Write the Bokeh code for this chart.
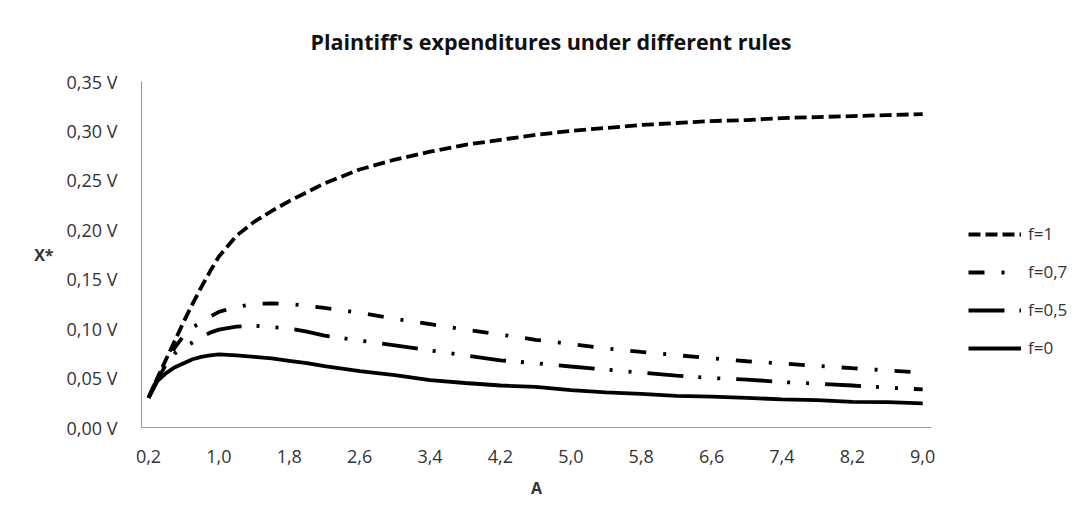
from bokeh.plotting import figure
from bokeh.models import Range1d, FixedTicker, CustomJSTickFormatter, Legend, LegendItem
from bokeh.embed import file_html
from bokeh.resources import INLINE

# ---- data ----
A = [0.2, 0.3, 0.4, 0.5, 0.6, 0.7, 0.8, 0.9, 1.0, 1.2, 1.4, 1.6, 1.8, 2.0, 2.2, 2.6,
     3.0, 3.4, 3.8, 4.2, 4.6, 5.0, 5.4, 5.8, 6.2, 6.6, 7.0, 7.4, 7.8, 8.2, 8.6, 9.0]

f_1 = [0.030, 0.050, 0.069, 0.088, 0.107, 0.125, 0.142, 0.158, 0.173, 0.194, 0.208, 0.219,
       0.229, 0.238, 0.247, 0.261, 0.271, 0.279, 0.286, 0.291, 0.296, 0.300, 0.303, 0.306,
       0.308, 0.310, 0.311, 0.313, 0.314, 0.315, 0.316, 0.317]

f_07 = [0.030, 0.050, 0.066, 0.081, 0.093, 0.101, 0.107, 0.112, 0.117, 0.122, 0.125, 0.1256,
        0.125, 0.123, 0.121, 0.116, 0.110, 0.1046, 0.099, 0.094, 0.0887, 0.0845, 0.080, 0.0765,
        0.0732, 0.070, 0.067, 0.0648, 0.0623, 0.060, 0.0578, 0.0555]

f_05 = [0.030, 0.048, 0.064, 0.075, 0.081, 0.086, 0.091, 0.096, 0.099, 0.102, 0.103, 0.1015,
        0.100, 0.097, 0.093, 0.088, 0.083, 0.078, 0.073, 0.068, 0.065, 0.0617, 0.0585, 0.0555,
        0.0525, 0.050, 0.0485, 0.046, 0.0443, 0.0425, 0.0403, 0.0385]

f_0 = [0.030, 0.047, 0.055, 0.061, 0.065, 0.069, 0.0715, 0.073, 0.074, 0.073, 0.0715, 0.070,
       0.0675, 0.065, 0.062, 0.057, 0.053, 0.048, 0.045, 0.0425, 0.041, 0.0378, 0.0356, 0.034,
       0.032, 0.0312, 0.030, 0.0285, 0.0277, 0.026, 0.0257, 0.0245]

series_names = ["f=1", "f=0,7", "f=0,5", "f=0"]
x_ticks = [0.2, 1.0, 1.8, 2.6, 3.4, 4.2, 5.0, 5.8, 6.6, 7.4, 8.2, 9.0]
y_ticks = [0.0, 0.05, 0.10, 0.15, 0.20, 0.25, 0.30, 0.35]

FONT = "Open Sans"
TXT = "#333333"

p = figure(frame_width=790, frame_height=346, output_backend="svg", toolbar_location=None,
           x_range=Range1d(0.12, 9.1), y_range=Range1d(0, 0.35),
           min_border_left=141, min_border_right=145, min_border_top=81, min_border_bottom=85)

p.title.text = "Plaintiff's expenditures under different rules"
p.title.align = "left"
p.title.offset = 169
p.title.text_font = FONT
p.title.text_font_size = "21.5px"
p.title.text_font_style = "bold"
p.title.text_color = "#111111"
p.title.vertical_align = "top"
p.title.standoff = 48

p.outline_line_color = None
p.xgrid.grid_line_color = None
p.ygrid.grid_line_color = None

lines = []
lines.append(p.line(A, f_1, line_color="black", line_width=3.8, line_dash="12 5"))
lines.append(p.line(A, f_07, line_color="black", line_width=3.8, line_dash="16 17 3 17"))
lines.append(p.line(A, f_05, line_color="black", line_width=3.8, line_dash="36 15 3 16 3 16"))
lines.append(p.line(A, f_0, line_color="black", line_width=3.8))

for ax in (p.xaxis[0], p.yaxis[0]):
    ax.axis_line_color = "#9a9a9a"
    ax.axis_line_width = 1
    ax.major_tick_line_color = None
    ax.minor_tick_line_color = None
    ax.major_tick_out = 0
    ax.major_tick_in = 0
    ax.minor_tick_out = 0
    ax.major_label_text_font = FONT
    ax.major_label_text_font_size = "18px"
    ax.major_label_text_color = TXT
    ax.axis_label_text_font = FONT
    ax.axis_label_text_font_size = "16px"
    ax.axis_label_text_font_style = "bold"
    ax.axis_label_text_color = TXT

p.xaxis.ticker = FixedTicker(ticks=x_ticks)
p.xaxis.formatter = CustomJSTickFormatter(code="return tick.toFixed(1).replace('.', ',');")
p.xaxis.major_label_standoff = 22
p.xaxis.axis_label = "A"
p.xaxis.axis_label_standoff = 11

p.yaxis.ticker = FixedTicker(ticks=y_ticks)
p.yaxis.formatter = CustomJSTickFormatter(code="return tick.toFixed(2).replace('.', ',') + ' V';")
p.yaxis.major_label_standoff = 24
p.yaxis.axis_label = "X*"
p.yaxis.axis_label_orientation = "horizontal"
p.yaxis.axis_label_standoff = 10

legend = Legend(items=[LegendItem(label=n, renderers=[r]) for n, r in zip(series_names, lines)],
                location=(37, 68), border_line_color=None, background_fill_alpha=0,
                label_text_font=FONT, label_text_font_size="17px", label_text_color=TXT,
                glyph_width=53, glyph_height=20, label_height=20, spacing=15,
                label_standoff=7, margin=0, padding=5)
p.add_layout(legend, "right")

open("out.html", "w").write(file_html(p, INLINE))
